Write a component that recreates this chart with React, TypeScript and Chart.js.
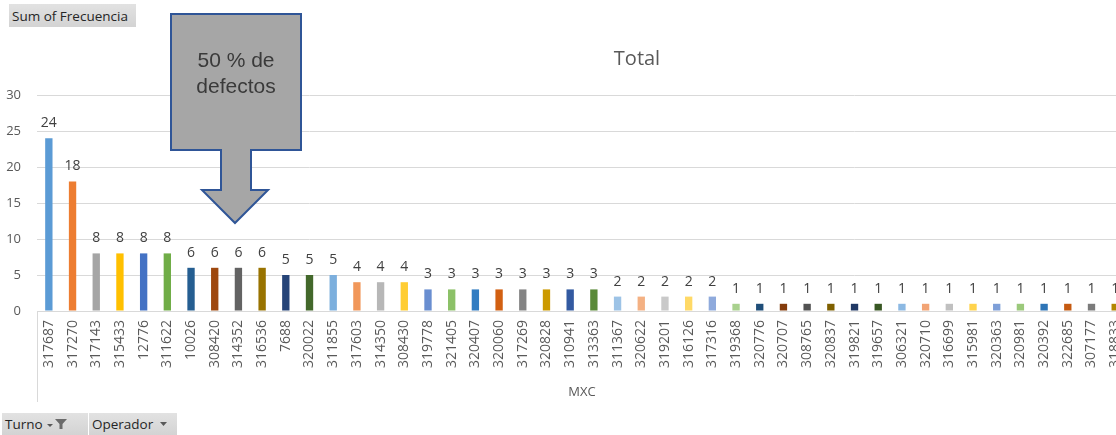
import React, { useEffect, useRef } from "react";
import { Chart, registerables } from "chart.js";

Chart.register(...registerables);

const categories: string[] = [
  "317687", "317270", "317143", "315433", "12776", "311622", "10026", "308420",
  "314352", "316536", "7688", "320022", "311855", "317603", "314350", "308430",
  "319778", "321405", "320407", "320060", "317269", "320828", "310941", "313363",
  "311367", "320622", "319201", "316126", "317316", "319368", "320776", "320707",
  "308765", "320837", "319821", "319657", "306321", "320710", "316699", "315981",
  "320363", "320981", "320392", "322685", "307177", "318833",
];

const frecuencia: number[] = [
  24, 18, 8, 8, 8, 8, 6, 6, 6, 6, 5, 5, 5, 4, 4, 4,
  3, 3, 3, 3, 3, 3, 3, 3,
  2, 2, 2, 2, 2,
  1, 1, 1, 1, 1, 1, 1, 1, 1, 1, 1, 1, 1, 1, 1, 1, 1,
];

const barColors: string[] = [
  "#5B9BD5", "#ED7D31", "#A5A5A5", "#FFC000", "#4472C4", "#70AD47",
  "#255E91", "#9E480E", "#636363", "#997300", "#264478", "#43682B",
  "#7CAFDD", "#F1975A", "#B7B7B7", "#FFCD33", "#698ED0", "#8CC168",
  "#327DC2", "#D26012", "#848484", "#CC9A00", "#335AA1", "#5A8A39",
  "#9DC3E6", "#F4B183", "#C9C9C9", "#FFD966", "#8FAADC", "#A9D18E",
  "#1F4E79", "#843C0C", "#525252", "#7F6000", "#203864", "#385723",
  "#8CB9E3", "#F2A475", "#C0C0C0", "#FFD34D", "#7E9FD8", "#9BC97B",
  "#2E75B6", "#C55A11", "#7B7B7B", "#B38600",
];

const yTicks = { min: 0, max: 30, step: 5 };

const FONT = "'Open Sans', 'Noto Sans', sans-serif";

const dataLabelPlugin = {
  id: "dataLabels",
  afterDatasetsDraw(chart: any) {
    const { ctx } = chart;
    const meta = chart.getDatasetMeta(0);
    const ds = chart.data.datasets[0];
    ctx.save();
    ctx.font = `14px ${FONT}`;
    ctx.fillStyle = "#404040";
    ctx.textAlign = "center";
    ctx.textBaseline = "alphabetic";
    meta.data.forEach((el: any, i: number) => {
      ctx.fillText(String(ds.data[i]), el.x, el.y - 11);
    });
    ctx.restore();
  },
};

const categoryLinePlugin = {
  id: "categoryLine",
  afterDraw(chart: any) {
    const x = chart.scales.x;
    const { ctx } = chart;
    ctx.save();
    ctx.strokeStyle = "#d9d9d9";
    ctx.lineWidth = 1;
    ctx.beginPath();
    ctx.moveTo(Math.round(x.left) + 0.5, x.top);
    ctx.lineTo(Math.round(x.left) + 0.5, x.bottom + 2);
    ctx.stroke();
    ctx.restore();
  },
};

function FieldButton({ children, style }: { children: React.ReactNode; style: React.CSSProperties }) {
  return (
    <div
      style={{
        position: "absolute",
        background: "linear-gradient(#e2e2e2, #d3d3d3)",
        color: "#262626",
        fontFamily: FONT,
        fontSize: 13.5,
        display: "flex",
        alignItems: "center",
        boxSizing: "border-box",
        padding: "0 3px",
        whiteSpace: "nowrap",
        ...style,
      }}
    >
      {children}
    </div>
  );
}

export default function App() {
  const canvasRef = useRef<HTMLCanvasElement | null>(null);

  useEffect(() => {
    if (!canvasRef.current) return;
    const chart = new Chart(canvasRef.current, {
      type: "bar",
      data: {
        labels: categories,
        datasets: [
          {
            label: "Total",
            data: frecuencia,
            backgroundColor: barColors,
            borderWidth: 0,
            barPercentage: 0.31,
            categoryPercentage: 1,
          },
        ],
      },
      options: {
        animation: false,
        responsive: true,
        maintainAspectRatio: false,
        layout: { padding: { top: 95, left: 0, right: 1, bottom: 35 } },
        plugins: {
          legend: { display: false },
          tooltip: { enabled: false },
          title: { display: false },
        },
        scales: {
          x: {
            grid: { display: false, drawTicks: false },
            border: { display: true, color: "#d9d9d9" },
            ticks: {
              autoSkip: false,
              minRotation: 90,
              maxRotation: 90,
              padding: 9,
              color: "#595959",
              font: { family: FONT, size: 14 },
            },
            title: {
              display: true,
              text: "MXC",
              color: "#595959",
              padding: 0,
              font: { family: FONT, size: 13 },
            },
            afterFit(scale: any) {
              scale.height = 89;
            },
          },
          y: {
            min: yTicks.min,
            max: yTicks.max,
            grid: { color: "#d9d9d9", drawTicks: false },
            border: { display: false },
            ticks: {
              stepSize: yTicks.step,
              padding: 16,
              color: "#595959",
              font: { family: FONT, size: 13 },
            },
            afterFit(scale: any) {
              scale.width = 37;
            },
          },
        },
      },
      plugins: [dataLabelPlugin, categoryLinePlugin],
    });
    return () => chart.destroy();
  }, []);

  return (
    <div
      style={{
        position: "absolute",
        left: 0,
        top: 0,
        width: 1116,
        height: 435,
        overflow: "hidden",
        background: "#fff",
      }}
    >
      <div style={{ position: "absolute", left: 0, top: 0, width: 1141, height: 435 }}>
        <canvas ref={canvasRef} />
      </div>

      <div
        style={{
          position: "absolute",
          left: 537,
          top: 44,
          width: 200,
          textAlign: "center",
          fontFamily: FONT,
          fontSize: 20,
          lineHeight: "28px",
          color: "#595959",
        }}
      >
        Total
      </div>

      <FieldButton style={{ left: 9, top: 4, width: 127, height: 23 }}>Sum of Frecuencia</FieldButton>

      <FieldButton style={{ left: 2, top: 413, width: 86, height: 22 }}>
        <span>Turno</span>
        <svg width="24" height="14" viewBox="0 0 24 14" style={{ marginLeft: 3 }}>
          <path d="M1 7 L7 7 L4 10 Z" fill="#595959" />
          <path d="M9 2 H21 L16.5 7 V12 H13.5 V7 Z" fill="#6b6b6b" />
        </svg>
      </FieldButton>

      <FieldButton style={{ left: 89, top: 413, width: 88, height: 22 }}>
        <span>Operador</span>
        <svg width="12" height="10" viewBox="0 0 12 10" style={{ marginLeft: 5 }}>
          <path d="M2 3 L9 3 L5.5 7 Z" fill="#595959" />
        </svg>
      </FieldButton>

      <svg
        width="1116"
        height="435"
        style={{ position: "absolute", left: 0, top: 0, pointerEvents: "none" }}
      >
        <path
          d="M171 14 H301 V150 H251 V190 H268 L235 223 L202 190 H221 V150 H171 Z"
          fill="#a6a6a6"
          stroke="#2f5597"
          strokeWidth="2"
          strokeLinejoin="miter"
        />
        <text
          x="236"
          y="67"
          textAnchor="middle"
          fontFamily="'Liberation Sans', Arial, sans-serif"
          fontSize="21"
          fill="#3a3a3a"
        >
          50 % de
        </text>
        <text
          x="236"
          y="93"
          textAnchor="middle"
          fontFamily="'Liberation Sans', Arial, sans-serif"
          fontSize="21"
          fill="#3a3a3a"
        >
          defectos
        </text>
      </svg>
    </div>
  );
}
